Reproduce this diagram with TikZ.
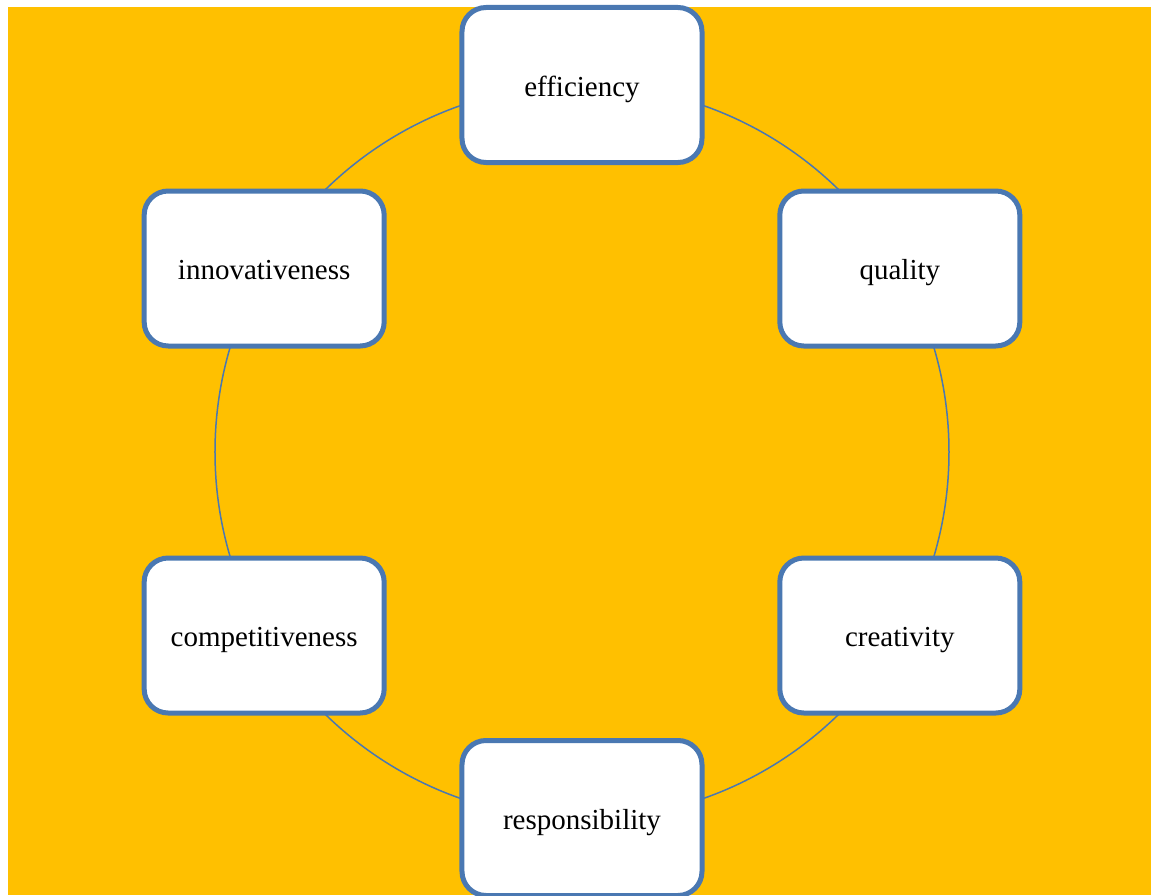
\documentclass[tikz,border=0pt]{standalone}
\usepackage{fontspec}
\setmainfont{Liberation Serif}
\definecolor{cycGold}{HTML}{FFC000}
\definecolor{cycBlue}{HTML}{4A78B2}
\tikzset{
  cyc ring/.style={draw=cycBlue, line width=0.75pt},
  cyc box/.style={draw=cycBlue, fill=white, line width=2.5pt, rounded corners=12pt,
    minimum width=120pt, minimum height=77.5pt, inner sep=0pt,
    text height=12pt, text depth=1pt,
    font=\fontsize{14.5}{16}\selectfont},
}

\begin{document}
\begin{tikzpicture}[x=0.5pt,y=0.5pt]
  \useasboundingbox (-582,-443) rectangle (569,452);
  \fill[cycGold] (-574,-443) rectangle (569,445);
  \coordinate (ctr) at (0,0);
  \draw[cyc ring] (ctr) circle[radius=367];
  \node[cyc box] (eff) at (90:367) {efficiency};
  \node[cyc box] (qual) at (30:367) {quality};
  \node[cyc box] (creat) at (-30:367) {creativity};
  \node[cyc box] (resp) at (-90:366) {responsibility};
  \node[cyc box] (comp) at (210:367) {competitiveness};
  \node[cyc box] (innov) at (150:367) {innovativeness};
\end{tikzpicture}
\end{document}
